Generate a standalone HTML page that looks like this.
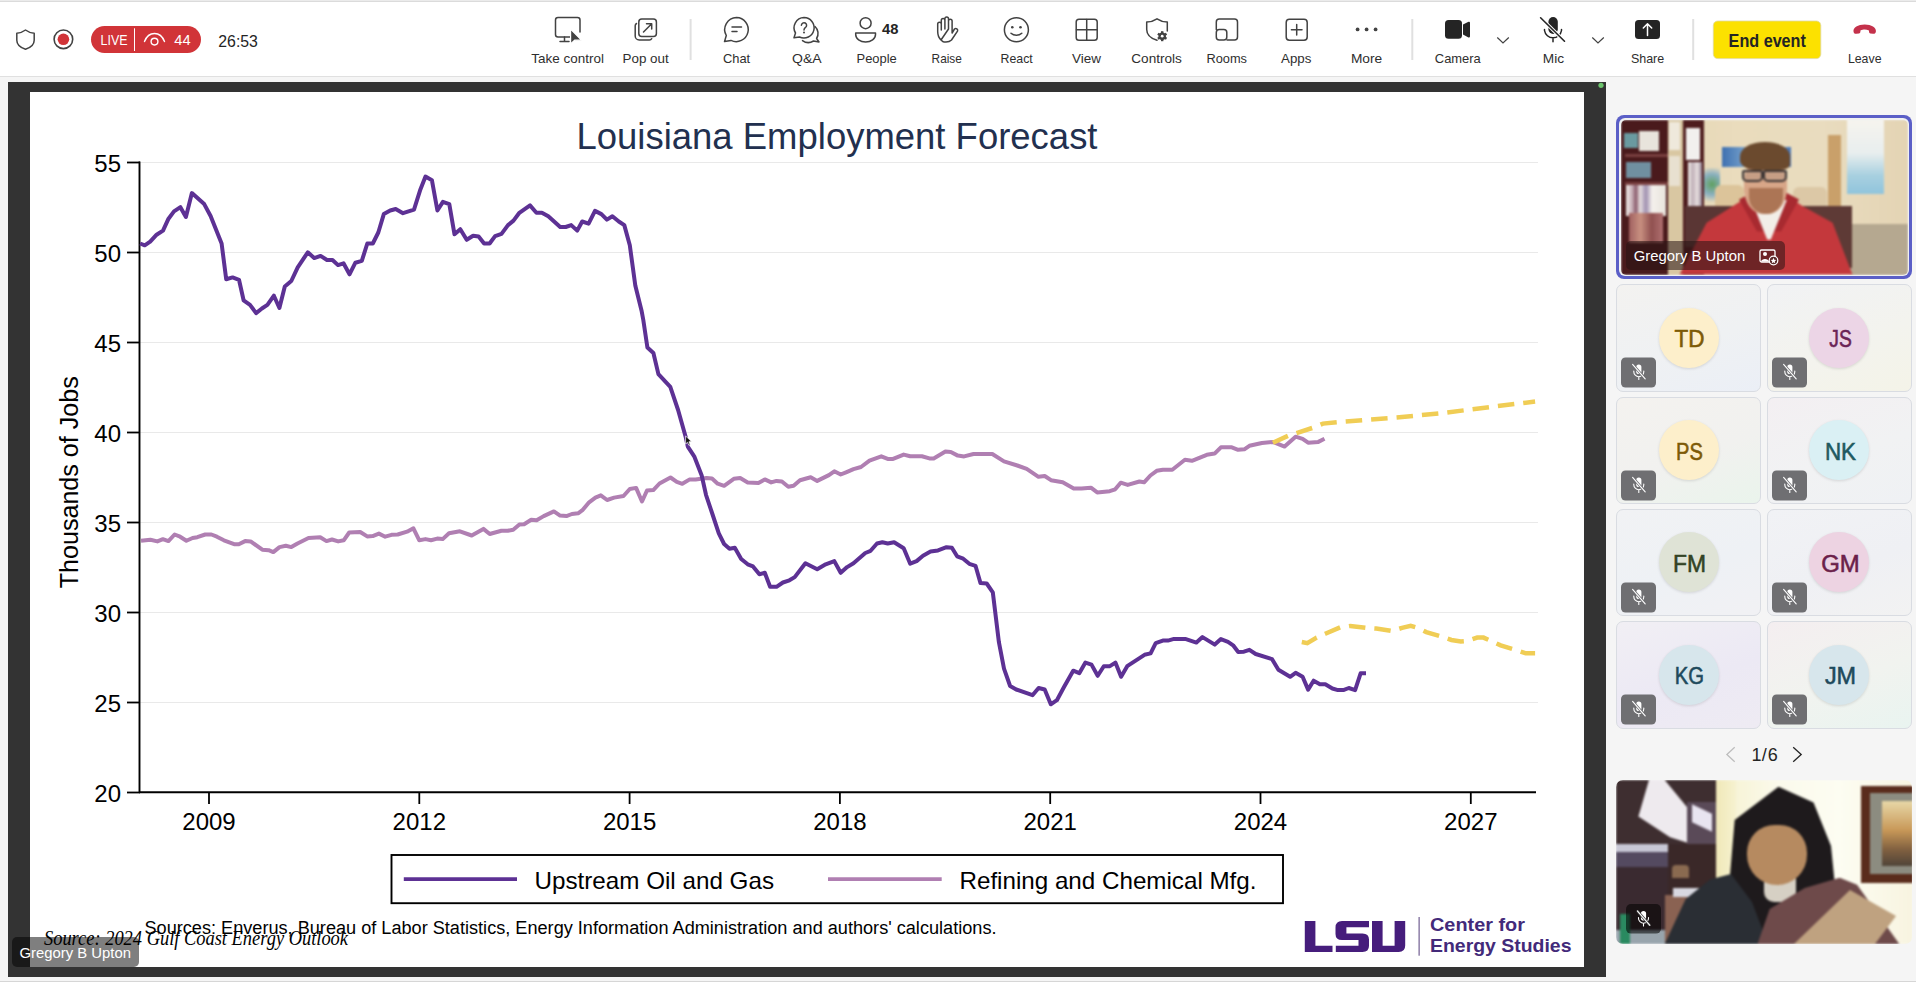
<!DOCTYPE html><html><head><meta charset='utf-8'><style>
*{margin:0;padding:0;box-sizing:border-box}
html,body{width:1916px;height:982px;overflow:hidden;background:#f5f5f5;font-family:"Liberation Sans", sans-serif}
.abs{position:absolute}
#top{position:absolute;left:0;top:0;width:1916px;height:77px;background:#fff;border-top:1px solid #ebebeb;border-bottom:1px solid #e0e0e0;box-shadow:inset 0 1px 0 #dbdbdb}
.lbl{position:absolute;top:49px;font-size:13px;color:#242424;white-space:nowrap;transform:translateX(-50%)}
.sep{position:absolute;top:19px;width:2px;height:41px;background:#e0e0e0}
#frame{position:absolute;left:8px;top:82px;width:1598px;height:895px;background:#333}
#slide{position:absolute;left:30px;top:92px;width:1554px;height:875px;background:#fff}
.tile{position:absolute;width:145px;height:107px;border-radius:6px;border:1px solid #dcdcdc;background:linear-gradient(135deg,#f3f1ee,#eceef3)}
.av{position:absolute;left:42px;top:22px;width:61px;height:61px;border-radius:50%;font-size:23px;text-align:center;line-height:61px;letter-spacing:0.5px}
.mute{position:absolute;left:4px;top:72px;width:35px;height:30px;border-radius:4px;background:#6e6e6e}
</style></head><body>
<div id='top'></div>
<svg class='abs' style='left:0;top:0' width='1916' height='77' viewBox='0 0 1916 77' font-family='Liberation Sans, sans-serif'><path d='M25.5 30 C22.5 32.2 19.5 33.2 16.8 33.2 V40.2 C16.8 44.2 19.5 47.3 25.5 49.2 C31.5 47.3 34.2 44.2 34.2 40.2 V33.2 C31.5 33.2 28.5 32.2 25.5 30 Z' stroke='#424242' stroke-width='1.5' fill='none' stroke-linecap='round' stroke-linejoin='round'/><circle cx='63.4' cy='39.3' r='9.3' fill='none' stroke='#424242' stroke-width='1.6'/><circle cx='63.4' cy='39.3' r='5.8' fill='#d13438'/><rect x='91' y='26' width='110' height='27' rx='13.5' fill='#d13438'/><text x='100.5' y='45.2' font-size='15' fill='#fff' textLength='27' lengthAdjust='spacingAndGlyphs'>LIVE</text><line x1='134.5' y1='28.3' x2='134.5' y2='51' stroke='#fff' stroke-width='1'/><path d='M144.5 41.5 C147 35 151 33.5 154.5 33.5 C158 33.5 162 35 164.5 41.5' fill='none' stroke='#fff' stroke-width='1.4' stroke-linecap='round'/><circle cx='154.5' cy='41.6' r='3.4' fill='none' stroke='#fff' stroke-width='1.4'/><text x='174.3' y='45.2' font-size='15' fill='#fff' textLength='16.4' lengthAdjust='spacingAndGlyphs'>44</text><text x='218.3' y='46.5' font-size='17' fill='#242424' textLength='39.6' lengthAdjust='spacingAndGlyphs'>26:53</text><text x='531.3' y='62.7' font-size='13.6' fill='#2e2e2e' textLength='72.6' lengthAdjust='spacingAndGlyphs'>Take control</text><text x='622.5' y='62.7' font-size='13.6' fill='#2e2e2e' textLength='46.3' lengthAdjust='spacingAndGlyphs'>Pop out</text><text x='723.0' y='62.7' font-size='13.6' fill='#2e2e2e' textLength='27.2' lengthAdjust='spacingAndGlyphs'>Chat</text><text x='792.0' y='62.7' font-size='13.6' fill='#2e2e2e' textLength='29.6' lengthAdjust='spacingAndGlyphs'>Q&amp;A</text><text x='856.5' y='62.7' font-size='13.6' fill='#2e2e2e' textLength='40.3' lengthAdjust='spacingAndGlyphs'>People</text><text x='931.6' y='62.7' font-size='13.6' fill='#2e2e2e' textLength='30.3' lengthAdjust='spacingAndGlyphs'>Raise</text><text x='1000.6' y='62.7' font-size='13.6' fill='#2e2e2e' textLength='32.2' lengthAdjust='spacingAndGlyphs'>React</text><text x='1072.0' y='62.7' font-size='13.6' fill='#2e2e2e' textLength='28.9' lengthAdjust='spacingAndGlyphs'>View</text><text x='1131.3' y='62.7' font-size='13.6' fill='#2e2e2e' textLength='50.6' lengthAdjust='spacingAndGlyphs'>Controls</text><text x='1206.5' y='62.7' font-size='13.6' fill='#2e2e2e' textLength='40.5' lengthAdjust='spacingAndGlyphs'>Rooms</text><text x='1281.1' y='62.7' font-size='13.6' fill='#2e2e2e' textLength='30.3' lengthAdjust='spacingAndGlyphs'>Apps</text><text x='1350.9' y='62.7' font-size='13.6' fill='#2e2e2e' textLength='31.3' lengthAdjust='spacingAndGlyphs'>More</text><text x='1434.8' y='62.7' font-size='13.6' fill='#2e2e2e' textLength='46' lengthAdjust='spacingAndGlyphs'>Camera</text><text x='1542.8' y='62.7' font-size='13.6' fill='#2e2e2e' textLength='21.3' lengthAdjust='spacingAndGlyphs'>Mic</text><text x='1630.9' y='62.7' font-size='13.6' fill='#2e2e2e' textLength='33.3' lengthAdjust='spacingAndGlyphs'>Share</text><text x='1847.9' y='62.7' font-size='13.6' fill='#2e2e2e' textLength='33.6' lengthAdjust='spacingAndGlyphs'>Leave</text><rect x='689.6' y='19' width='2' height='41' fill='#e0e0e0'/><rect x='1411.3' y='19' width='2' height='41' fill='#e0e0e0'/><rect x='1692.2' y='19' width='2' height='41' fill='#e0e0e0'/><path d='M571 37 H558 A2.5 2.5 0 0 1 555.5 34.5 V20 A2.5 2.5 0 0 1 558 17.5 H577.5 A2.5 2.5 0 0 1 580 20 V32' stroke='#424242' stroke-width='1.5' fill='none' stroke-linecap='round' stroke-linejoin='round'/><path d='M564.5 37 V41.2 M560 41.5 H569' stroke='#424242' stroke-width='1.5' fill='none' stroke-linecap='round' stroke-linejoin='round'/><path d='M570.6 29.2 L570.6 44 L574.6 40.2 L581.5 40.2 Z' fill='#424242' stroke='#fff' stroke-width='1.2' stroke-linejoin='round'/><path d='M636.5 23.5 A2.6 2.6 0 0 0 635.2 25.7 V36 A4 4 0 0 0 639.2 40 H649.5 A2.6 2.6 0 0 0 651.7 38.7' stroke='#424242' stroke-width='1.5' fill='none' stroke-linecap='round' stroke-linejoin='round'/><rect x='638.8' y='18.9' width='17.6' height='17.6' rx='3' stroke='#424242' stroke-width='1.5' fill='none' stroke-linecap='round' stroke-linejoin='round'/><path d='M643.5 32 L651.5 24 M646.5 23.8 H651.7 V29' stroke='#424242' stroke-width='1.5' fill='none' stroke-linecap='round' stroke-linejoin='round'/><path d='M736.5 17.6 A12 12 0 1 1 731 40.4 L724.5 41.6 L726.3 35.5 A12 12 0 0 1 736.5 17.6 Z' stroke='#424242' stroke-width='1.5' fill='none' stroke-linecap='round' stroke-linejoin='round'/><path d='M732 27 H741.5 M732 31.6 H737' stroke='#424242' stroke-width='1.5' fill='none' stroke-linecap='round' stroke-linejoin='round'/><path d='M804 17.6 A10.2 10.2 0 1 1 799.5 37 L794 37.8 L795.5 33 A10.2 10.2 0 0 1 804 17.6 Z' stroke='#424242' stroke-width='1.5' fill='none' stroke-linecap='round' stroke-linejoin='round'/><path d='M815 26.5 A9.5 9.5 0 0 1 816.6 38.5 L819 42 L813.5 41 A10 10 0 0 1 802.5 40.6' stroke='#424242' stroke-width='1.5' fill='none' stroke-linecap='round' stroke-linejoin='round'/><path d='M801.4 25.2 A2.6 2.6 0 1 1 805.5 27.4 C804.3 28.2 804 28.8 804 30' stroke='#424242' stroke-width='1.5' fill='none' stroke-linecap='round' stroke-linejoin='round'/><circle cx='804' cy='32.6' r='1' fill='#424242'/><circle cx='865.6' cy='23.2' r='5.5' stroke='#424242' stroke-width='1.5' fill='none' stroke-linecap='round' stroke-linejoin='round'/><path d='M855.7 33 H875.5 V34.5 C875.5 38.8 871 41.9 865.6 41.9 C860.2 41.9 855.7 38.8 855.7 34.5 Z' stroke='#424242' stroke-width='1.5' fill='none' stroke-linecap='round' stroke-linejoin='round'/><text x='882' y='34.4' font-size='14' font-weight='bold' fill='#242424' textLength='16.4' lengthAdjust='spacingAndGlyphs'>48</text><path d='M941 40 C938.5 37.5 937.7 35 937.7 31.5 V24 A1.8 1.8 0 0 1 941.3 24 V30 M941.3 30 V20.2 A1.8 1.8 0 0 1 944.9 20.2 V29 M944.9 29 V18.8 A1.8 1.8 0 0 1 948.5 18.8 V29 M948.5 29 V21 A1.8 1.8 0 0 1 952.1 21 V33 L954.5 29 A1.9 1.9 0 0 1 957.5 31.2 L951.5 40 C950 41.5 948 42 946 42 H944 C943 42 942 41 941 40 Z' stroke='#424242' stroke-width='1.5' fill='none' stroke-linecap='round' stroke-linejoin='round'/><circle cx='1016.4' cy='29.7' r='12' stroke='#424242' stroke-width='1.5' fill='none' stroke-linecap='round' stroke-linejoin='round'/><circle cx='1012.3' cy='27.2' r='1.3' fill='#424242'/><circle cx='1020.5' cy='27.2' r='1.3' fill='#424242'/><path d='M1011 33.3 C1014 36 1018.8 36 1021.8 33.3' stroke='#424242' stroke-width='1.5' fill='none' stroke-linecap='round' stroke-linejoin='round'/><rect x='1076.2' y='19.2' width='21' height='21' rx='2.8' stroke='#424242' stroke-width='1.5' fill='none' stroke-linecap='round' stroke-linejoin='round'/><path d='M1086.7 19.5 V40 M1076.5 29.7 H1097' stroke='#424242' stroke-width='1.5' fill='none' stroke-linecap='round' stroke-linejoin='round'/><path d='M1157 40.3 C1150.5 38.3 1146.7 34.5 1146.7 29.5 V22 C1150.5 22 1154 20.8 1157 18.8 C1160 20.8 1163.5 22 1167.3 22 V31' stroke='#424242' stroke-width='1.5' fill='none' stroke-linecap='round' stroke-linejoin='round'/><g transform='translate(1162.2,36.2)'><circle r='3.7' fill='#424242'/><rect x='-1.2' y='-5' width='2.4' height='3' fill='#424242' transform='rotate(0)'/><rect x='-1.2' y='-5' width='2.4' height='3' fill='#424242' transform='rotate(60)'/><rect x='-1.2' y='-5' width='2.4' height='3' fill='#424242' transform='rotate(120)'/><rect x='-1.2' y='-5' width='2.4' height='3' fill='#424242' transform='rotate(180)'/><rect x='-1.2' y='-5' width='2.4' height='3' fill='#424242' transform='rotate(240)'/><rect x='-1.2' y='-5' width='2.4' height='3' fill='#424242' transform='rotate(300)'/><circle r='1.4' fill='#fff'/></g><path d='M1216.3 29.5 V22 A3 3 0 0 1 1219.3 19 H1234.5 A3 3 0 0 1 1237.5 22 V37 A3 3 0 0 1 1234.5 40 H1227' stroke='#424242' stroke-width='1.5' fill='none' stroke-linecap='round' stroke-linejoin='round'/><rect x='1216.3' y='29.5' width='10.5' height='10.5' rx='3' stroke='#424242' stroke-width='1.5' fill='none' stroke-linecap='round' stroke-linejoin='round'/><rect x='1286.2' y='19.2' width='21' height='21' rx='3.2' stroke='#424242' stroke-width='1.5' fill='none' stroke-linecap='round' stroke-linejoin='round'/><path d='M1296.7 24.5 V35 M1291.4 29.7 H1302' stroke='#424242' stroke-width='1.5' fill='none' stroke-linecap='round' stroke-linejoin='round'/><circle cx='1357.6' cy='29.4' r='1.9' fill='#424242'/><circle cx='1366.6' cy='29.4' r='1.9' fill='#424242'/><circle cx='1375.6' cy='29.4' r='1.9' fill='#424242'/><rect x='1445' y='20' width='17' height='18.8' rx='3.5' fill='#242424'/><path d='M1463 24.5 L1468 22 A1.2 1.2 0 0 1 1470 23 V36.3 A1.2 1.2 0 0 1 1468 37.2 L1463 34.5 Z' fill='#242424'/><path d='M1497.3 37.5 L1503 43 L1508.8 37.5' stroke='#424242' stroke-width='1.2' fill='none'/><rect x='1548.4' y='17' width='9.4' height='17' rx='4.7' fill='#242424'/><path d='M1544.5 29.5 V30.5 A8.6 8.6 0 0 0 1561.5 30.5 V29.5 M1553 39 V41.8' stroke='#242424' stroke-width='1.5' fill='none' stroke-linecap='round'/><path d='M1540.6 17.8 L1564.5 41.2' stroke='#fff' stroke-width='3.5'/><path d='M1540.6 17.8 L1564.5 41.2' stroke='#242424' stroke-width='1.6' stroke-linecap='round'/><path d='M1592.3 37.5 L1598 43 L1603.8 37.5' stroke='#424242' stroke-width='1.2' fill='none'/><rect x='1635' y='20.1' width='25' height='18.8' rx='3.5' fill='#242424'/><path d='M1647.5 35.6 V23.8 M1643.3 28 L1647.5 23.8 L1651.7 28' stroke='#fff' stroke-width='1.5' fill='none' stroke-linecap='round' stroke-linejoin='round'/><rect x='1713.3' y='21' width='107.5' height='37.6' rx='4.5' fill='#fce100' stroke='#e0d9a0' stroke-width='0.8'/><text x='1728.6' y='47' font-size='17.5' font-weight='bold' fill='#242424' textLength='77.3' lengthAdjust='spacingAndGlyphs'>End event</text><path d='M1853.5 31.5 C1853 27.5 1858 24.5 1864.7 24.5 C1871.4 24.5 1876.4 27.5 1875.9 31.5 C1875.7 33.5 1874.5 34 1873 33.8 L1870.5 33.4 C1869.4 33.2 1869 32.5 1869 31.5 V30.5 C1867.5 29.8 1866 29.6 1864.7 29.6 C1863.4 29.6 1861.9 29.8 1860.4 30.5 V31.5 C1860.4 32.5 1860 33.2 1858.9 33.4 L1856.4 33.8 C1854.9 34 1853.7 33.5 1853.5 31.5 Z' fill='#c4314b'/></svg>
<div id='frame'></div><div id='slide'></div>
<svg class='abs' style='left:0;top:0' width='1916' height='982' viewBox='0 0 1916 982' font-family='Liberation Sans, sans-serif'>
<line x1='140' y1='162.5' x2='1538' y2='162.5' stroke='#e9e9e9' stroke-width='1.1'/><line x1='140' y1='252.5' x2='1538' y2='252.5' stroke='#e9e9e9' stroke-width='1.1'/><line x1='140' y1='342.5' x2='1538' y2='342.5' stroke='#e9e9e9' stroke-width='1.1'/><line x1='140' y1='432.5' x2='1538' y2='432.5' stroke='#e9e9e9' stroke-width='1.1'/><line x1='140' y1='522.5' x2='1538' y2='522.5' stroke='#e9e9e9' stroke-width='1.1'/><line x1='140' y1='612.5' x2='1538' y2='612.5' stroke='#e9e9e9' stroke-width='1.1'/><line x1='140' y1='702.5' x2='1538' y2='702.5' stroke='#e9e9e9' stroke-width='1.1'/>
<line x1='139.5' y1='161.6' x2='139.5' y2='793' stroke='#000' stroke-width='1.9'/>
<line x1='139' y1='792.2' x2='1536' y2='792.2' stroke='#000' stroke-width='1.9'/>
<line x1='127' y1='792.5' x2='140' y2='792.5' stroke='#000' stroke-width='1.8'/><text x='121' y='801.8' text-anchor='end' font-size='24'>20</text><line x1='127' y1='702.5' x2='140' y2='702.5' stroke='#000' stroke-width='1.8'/><text x='121' y='711.8' text-anchor='end' font-size='24'>25</text><line x1='127' y1='612.5' x2='140' y2='612.5' stroke='#000' stroke-width='1.8'/><text x='121' y='621.8' text-anchor='end' font-size='24'>30</text><line x1='127' y1='522.5' x2='140' y2='522.5' stroke='#000' stroke-width='1.8'/><text x='121' y='531.8' text-anchor='end' font-size='24'>35</text><line x1='127' y1='432.5' x2='140' y2='432.5' stroke='#000' stroke-width='1.8'/><text x='121' y='441.8' text-anchor='end' font-size='24'>40</text><line x1='127' y1='342.5' x2='140' y2='342.5' stroke='#000' stroke-width='1.8'/><text x='121' y='351.8' text-anchor='end' font-size='24'>45</text><line x1='127' y1='252.5' x2='140' y2='252.5' stroke='#000' stroke-width='1.8'/><text x='121' y='261.8' text-anchor='end' font-size='24'>50</text><line x1='127' y1='162.5' x2='140' y2='162.5' stroke='#000' stroke-width='1.8'/><text x='121' y='171.8' text-anchor='end' font-size='24'>55</text><line x1='209.0' y1='792' x2='209.0' y2='804' stroke='#000' stroke-width='1.8'/><text x='209.0' y='830' text-anchor='middle' font-size='24'>2009</text><line x1='419.3' y1='792' x2='419.3' y2='804' stroke='#000' stroke-width='1.8'/><text x='419.3' y='830' text-anchor='middle' font-size='24'>2012</text><line x1='629.6' y1='792' x2='629.6' y2='804' stroke='#000' stroke-width='1.8'/><text x='629.6' y='830' text-anchor='middle' font-size='24'>2015</text><line x1='839.9' y1='792' x2='839.9' y2='804' stroke='#000' stroke-width='1.8'/><text x='839.9' y='830' text-anchor='middle' font-size='24'>2018</text><line x1='1050.2' y1='792' x2='1050.2' y2='804' stroke='#000' stroke-width='1.8'/><text x='1050.2' y='830' text-anchor='middle' font-size='24'>2021</text><line x1='1260.5' y1='792' x2='1260.5' y2='804' stroke='#000' stroke-width='1.8'/><text x='1260.5' y='830' text-anchor='middle' font-size='24'>2024</text><line x1='1470.8' y1='792' x2='1470.8' y2='804' stroke='#000' stroke-width='1.8'/><text x='1470.8' y='830' text-anchor='middle' font-size='24'>2027</text>
<text x='576.5' y='149' font-size='36' fill='#22304f' textLength='521' lengthAdjust='spacingAndGlyphs'>Louisiana Employment Forecast</text>
<text transform='translate(77.5,482.3) rotate(-90)' text-anchor='middle' font-size='25' textLength='212' lengthAdjust='spacingAndGlyphs'>Thousands of Jobs</text>
<path d='M141.0 540.8 L150.4 539.8 L157.4 541.4 L162.9 539.2 L168.4 541.1 L174.6 534.5 L180.1 536.7 L186.4 540.8 L192.6 538.0 L197.3 537.2 L205.2 534.5 L211.4 534.5 L216.9 536.7 L223.9 540.3 L234.1 544.2 L238.8 544.2 L245.1 541.1 L250.6 541.4 L262.3 549.7 L268.6 550.2 L273.3 552.1 L279.5 547.1 L285.8 545.8 L291.3 547.1 L297.5 543.5 L308.5 538.0 L320.2 537.2 L326.5 541.1 L332.0 539.5 L338.2 541.4 L343.7 540.3 L349.2 532.5 L360.2 532.0 L367.2 536.4 L372.7 536.1 L378.9 533.6 L385.2 536.7 L391.5 534.8 L397.7 534.5 L407.1 531.7 L413.4 528.3 L419.3 540.3 L425.5 539.1 L431.0 540.2 L437.2 538.6 L442.7 539.1 L449.0 533.3 L459.9 531.3 L471.7 535.5 L483.4 528.9 L489.7 534.0 L501.4 530.8 L507.7 530.8 L513.2 529.7 L519.4 524.5 L524.1 524.2 L531.2 519.8 L536.6 520.3 L543.7 516.1 L553.9 511.4 L560.1 515.6 L566.4 516.1 L571.9 514.0 L578.1 513.3 L582.8 509.8 L589.1 502.3 L595.4 497.6 L600.8 495.3 L607.1 500.0 L614.1 497.6 L623.5 496.0 L629.8 489.0 L636.1 487.9 L642.0 501.5 L647.0 490.5 L653.3 490.1 L659.5 483.5 L670.5 477.5 L676.8 481.9 L682.3 483.8 L689.3 479.6 L695.6 479.6 L706.5 478.0 L712.0 478.5 L717.7 483.7 L724.1 485.8 L733.8 478.8 L740.2 478.1 L747.7 482.4 L758.4 483.0 L764.8 479.4 L771.2 482.4 L776.5 480.9 L781.9 481.5 L788.3 486.7 L793.6 485.8 L800.0 480.2 L810.7 477.3 L817.2 480.9 L828.9 475.1 L834.3 471.3 L840.7 474.5 L846.0 472.3 L853.5 469.1 L861.0 467.0 L869.5 460.6 L881.3 456.3 L887.7 458.9 L893.1 458.9 L903.7 454.6 L910.2 456.3 L921.9 456.3 L929.4 458.4 L933.7 458.4 L945.4 451.6 L950.8 452.0 L957.8 455.6 L964.1 456.4 L973.5 454.0 L992.3 454.0 L1004.0 461.4 L1017.3 465.5 L1026.7 468.9 L1038.5 476.8 L1044.7 476.0 L1051.0 480.2 L1062.7 482.3 L1073.7 488.5 L1081.5 488.5 L1090.9 487.7 L1097.2 492.4 L1109.7 491.2 L1115.2 489.3 L1120.7 482.7 L1127.7 484.9 L1139.4 481.5 L1144.1 482.3 L1150.4 475.5 L1156.7 470.8 L1162.9 469.7 L1172.3 469.7 L1184.9 459.8 L1191.9 460.8 L1206.8 454.8 L1214.6 453.6 L1220.9 447.3 L1231.8 447.3 L1238.1 449.8 L1244.3 449.3 L1249.4 445.8 L1261.9 443.0 L1272.9 441.9 L1284.6 446.6 L1295.6 436.7 L1302.6 438.8 L1308.1 442.7 L1318.3 441.9 L1324.5 438.8' fill='none' stroke='#b07fb2' stroke-width='4' stroke-linejoin='round'/>
<path d='M140.1 243.5 L144.7 245.3 L150.2 241.6 L156.6 234.7 L163.0 230.6 L168.5 218.7 L174.0 211.4 L180.4 207.2 L185.9 216.9 L191.9 193.1 L204.2 204.1 L210.6 216.0 L221.6 243.5 L226.2 279.2 L232.6 277.4 L239.0 279.8 L243.6 300.3 L250.0 304.9 L256.1 313.1 L261.9 308.5 L267.4 304.9 L273.9 295.7 L279.4 308.0 L284.8 286.5 L291.3 281.0 L297.7 267.3 L307.8 252.3 L314.2 258.1 L320.6 255.9 L327.0 260.0 L332.5 260.0 L338.0 265.1 L343.5 263.3 L349.5 274.3 L355.4 262.7 L361.8 260.9 L367.3 243.5 L372.8 243.5 L378.3 232.5 L383.8 214.1 L390.2 210.5 L395.7 209.0 L403.0 213.2 L414.0 209.6 L420.4 189.4 L425.5 176.6 L431.9 180.2 L437.4 210.5 L442.9 201.9 L449.3 204.1 L454.5 234.3 L460.3 229.2 L466.7 239.8 L473.1 235.8 L478.6 236.5 L484.1 243.5 L489.6 243.5 L495.1 236.1 L501.5 233.9 L508.0 225.1 L513.5 220.6 L519.0 213.2 L530.0 205.4 L536.4 212.7 L541.9 212.7 L548.3 216.3 L560.2 227.0 L565.7 227.0 L571.2 225.1 L577.2 230.6 L582.2 221.5 L588.6 223.7 L595.0 210.9 L601.4 214.1 L606.9 219.6 L612.4 216.3 L618.8 221.5 L624.3 225.1 L629.8 245.3 L635.3 285.6 L641.7 311.3 L643.3 320.0 L647.4 347.5 L653.4 353.0 L658.4 374.1 L670.3 386.9 L678.1 410.0 L685.7 437.0 L687.8 446.7 L694.2 456.3 L701.7 475.5 L706.0 494.8 L712.4 514.0 L718.8 533.3 L724.1 544.0 L729.5 548.7 L734.8 547.8 L741.2 559.0 L747.7 564.3 L753.0 566.4 L759.4 574.3 L764.8 572.8 L770.1 586.8 L776.5 586.8 L782.9 582.5 L789.4 580.3 L794.7 577.1 L805.4 563.2 L817.2 569.2 L825.7 564.3 L834.3 561.1 L840.7 572.8 L847.1 567.1 L853.5 563.2 L865.3 553.0 L870.6 550.8 L877.0 543.5 L882.4 542.3 L887.7 543.5 L894.1 542.3 L903.7 548.3 L910.2 563.7 L916.6 561.1 L923.0 555.7 L930.5 551.5 L938.0 550.4 L946.5 547.2 L951.9 547.8 L957.1 556.3 L963.2 558.7 L969.3 563.8 L975.5 565.8 L980.5 583.1 L986.7 583.5 L992.8 592.3 L998.9 642.2 L1004.0 668.7 L1010.1 686.0 L1016.2 689.5 L1032.5 695.2 L1038.6 688.0 L1044.7 689.5 L1050.8 704.3 L1056.9 700.2 L1064.0 687.0 L1073.2 670.7 L1079.3 673.2 L1085.4 662.6 L1091.5 664.6 L1097.7 675.8 L1103.8 666.2 L1109.9 666.2 L1115.4 662.6 L1121.1 676.8 L1127.2 666.2 L1144.5 654.8 L1150.6 653.4 L1155.7 643.2 L1162.8 640.6 L1167.9 640.6 L1174.0 638.9 L1185.2 638.9 L1196.4 642.6 L1202.5 637.1 L1214.8 644.6 L1220.9 639.1 L1228.0 641.8 L1233.1 645.3 L1238.2 652.0 L1243.9 651.7 L1249.4 649.8 L1255.7 654.0 L1272.1 659.2 L1278.4 669.7 L1290.1 676.8 L1295.6 672.8 L1302.6 676.8 L1308.1 689.6 L1313.6 680.7 L1319.9 684.3 L1325.3 684.3 L1332.4 688.5 L1337.9 690.1 L1343.3 690.1 L1348.8 688.0 L1355.1 690.1 L1360.6 673.3 L1366.0 673.3' fill='none' stroke='#5d3194' stroke-width='4' stroke-linejoin='round'/>
<path d='M1272.9 442.7 L1288.5 435.6 L1312.8 427.8 L1323.0 423.6 L1338.6 422.0 L1396.6 417.6 L1443.5 412.9 L1493.6 406.6 L1535.1 401.6' fill='none' stroke='#f0cd55' stroke-width='4.5' stroke-dasharray='16.5 9'/>
<path d='M1301.8 642.0 L1307.3 643.1 L1316.7 637.6 L1325.3 633.7 L1340.2 627.4 L1350.4 625.9 L1366.8 627.9 L1376.2 628.5 L1391.9 631.0 L1402.0 627.9 L1410.7 625.9 L1417.7 627.9 L1426.3 632.1 L1442.0 636.8 L1451.4 640.0 L1460.8 641.5 L1467.0 641.0 L1477.2 637.6 L1483.5 637.6 L1492.1 641.5 L1500.7 645.4 L1517.1 650.4 L1525.7 653.3 L1535.1 653.3' fill='none' stroke='#f0cd55' stroke-width='4.5' stroke-dasharray='16.5 9'/>
<rect x='391.5' y='855' width='891.5' height='48.2' fill='none' stroke='#000' stroke-width='1.9'/>
<line x1='403.8' y1='879.1' x2='517' y2='879.1' stroke='#5d3194' stroke-width='3.8'/>
<line x1='828' y1='879.1' x2='941.7' y2='879.1' stroke='#b07fb2' stroke-width='3.8'/>
<text x='534.5' y='888.8' font-size='24' textLength='239.5' lengthAdjust='spacingAndGlyphs'>Upstream Oil and Gas</text>
<text x='959.5' y='888.8' font-size='24' textLength='297' lengthAdjust='spacingAndGlyphs'>Refining and Chemical Mfg.</text>
<text x='144.5' y='934.3' font-size='18' textLength='852' lengthAdjust='spacingAndGlyphs'>Sources: Enverus, Bureau of Labor Statistics, Energy Information Administration and authors' calculations.</text>
<text x='44' y='945' font-size='20' font-style='italic' font-family='Liberation Serif, serif' textLength='304' lengthAdjust='spacingAndGlyphs'>Source: 2024 Gulf Coast Energy Outlook</text>
<g fill='#461d7c'>
<path d='M1304.8 921 H1315.4 V945.8 H1332.5 V952 H1304.8 Z'/>
<path d='M1369 921 V927.2 H1346.4 V933.4 H1362.5 Q1369 933.4 1369 939.5 V945.8 Q1369 952 1362.5 952 H1335.8 V945.8 H1358.5 V940 H1342 Q1335.5 940 1335.5 934 V927.5 Q1335.5 921 1342 921 Z'/>
<path d='M1372 921 H1382.6 V945.8 H1394.6 V921 H1405.2 V945.5 Q1405.2 952 1398.7 952 H1372 Z'/>
</g>
<rect x='1418.4' y='917' width='1.5' height='38.7' fill='#8e7fa8'/>
<text x='1430' y='930.9' font-size='19' font-weight='bold' fill='#432a7a' textLength='95' lengthAdjust='spacingAndGlyphs'>Center for</text>
<text x='1430' y='951.8' font-size='19' font-weight='bold' fill='#432a7a' textLength='141.5' lengthAdjust='spacingAndGlyphs'>Energy Studies</text>
<path d='M685.6 436 V444 L687.5 442.3 L688.8 445.2 L690.2 444.6 L688.9 441.8 L691.5 441.6 Z' fill='#111' stroke='#fff' stroke-width='0.7' stroke-linejoin='round'/>
<circle cx='1601' cy='85.3' r='2.6' fill='#6cc46c'/>
<rect x='0' y='981' width='1916' height='1' fill='#d6d6d6'/>
</svg>
<div class='abs' style='left:12px;top:937px;width:127px;height:29.5px;border-radius:5px;background:rgba(0,0,0,0.5)'></div><svg class='abs' style='left:0;top:920px' width='160' height='60'><text x='19.5' y='37.6' font-family='Liberation Sans, sans-serif' font-size='15' fill='#fff' textLength='111.5' lengthAdjust='spacingAndGlyphs'>Gregory B Upton</text></svg>
<div class='abs' style='left:1616.3px;top:284.3px;width:145.2px;height:107.4px;border-radius:7px;border:1px solid #d9dce2;background:linear-gradient(160deg,#f3f2f0 0%,#eff1f3 55%,#ebeff6 100%)'><div class='abs' style='left:41.5px;top:22.5px;width:60px;height:60px;border-radius:50%;background:#fdefcb;box-shadow:0 1px 3px rgba(0,0,0,0.12)'></div><svg class='abs' style='left:0;top:0' width='145' height='107'><text x='72.5' y='62' text-anchor='middle' font-family='Liberation Sans, sans-serif' font-size='23' fill='#7d5a06' stroke='#7d5a06' stroke-width='0.55' textLength='30' lengthAdjust='spacingAndGlyphs'>TD</text><rect x='4' y='72.5' width='35' height='30' rx='4.5' fill='#6f6f72'/><g transform='translate(21.8,87.5) scale(1.0)'><rect x='-2.6' y='-8' width='5.2' height='9.5' rx='2.6' fill='#fff'/><path d='M-5 -1.5 V-0.8 A5 5 0 0 0 5 -0.8 V-1.5 M0 4.3 V7' stroke='#fff' stroke-width='1.1' fill='none' stroke-linecap='round'/><path d='M-6.2 -8.2 L6.4 6.4' stroke='#707074' stroke-width='2.6'/><path d='M-6.2 -8.2 L6.4 6.4' stroke='#fff' stroke-width='1.1' stroke-linecap='round'/></g></svg></div><div class='abs' style='left:1766.6px;top:284.3px;width:145.2px;height:107.4px;border-radius:7px;border:1px solid #d9dce2;background:linear-gradient(160deg,#f1f2f4 0%,#f3f3ee 55%,#f4f3e8 100%)'><div class='abs' style='left:41.5px;top:22.5px;width:60px;height:60px;border-radius:50%;background:#ecd5e6;box-shadow:0 1px 3px rgba(0,0,0,0.12)'></div><svg class='abs' style='left:0;top:0' width='145' height='107'><text x='72.5' y='62' text-anchor='middle' font-family='Liberation Sans, sans-serif' font-size='23' fill='#6b2456' stroke='#6b2456' stroke-width='0.55' textLength='22.5' lengthAdjust='spacingAndGlyphs'>JS</text><rect x='4' y='72.5' width='35' height='30' rx='4.5' fill='#6f6f72'/><g transform='translate(21.8,87.5) scale(1.0)'><rect x='-2.6' y='-8' width='5.2' height='9.5' rx='2.6' fill='#fff'/><path d='M-5 -1.5 V-0.8 A5 5 0 0 0 5 -0.8 V-1.5 M0 4.3 V7' stroke='#fff' stroke-width='1.1' fill='none' stroke-linecap='round'/><path d='M-6.2 -8.2 L6.4 6.4' stroke='#707074' stroke-width='2.6'/><path d='M-6.2 -8.2 L6.4 6.4' stroke='#fff' stroke-width='1.1' stroke-linecap='round'/></g></svg></div><div class='abs' style='left:1616.3px;top:396.6px;width:145.2px;height:107.4px;border-radius:7px;border:1px solid #d9dce2;background:linear-gradient(160deg,#f4f2ef 0%,#f1f1ef 55%,#eaf4ec 100%)'><div class='abs' style='left:41.5px;top:22.5px;width:60px;height:60px;border-radius:50%;background:#fdefcb;box-shadow:0 1px 3px rgba(0,0,0,0.12)'></div><svg class='abs' style='left:0;top:0' width='145' height='107'><text x='72.5' y='62' text-anchor='middle' font-family='Liberation Sans, sans-serif' font-size='23' fill='#7d5a06' stroke='#7d5a06' stroke-width='0.55' textLength='26.8' lengthAdjust='spacingAndGlyphs'>PS</text><rect x='4' y='72.5' width='35' height='30' rx='4.5' fill='#6f6f72'/><g transform='translate(21.8,87.5) scale(1.0)'><rect x='-2.6' y='-8' width='5.2' height='9.5' rx='2.6' fill='#fff'/><path d='M-5 -1.5 V-0.8 A5 5 0 0 0 5 -0.8 V-1.5 M0 4.3 V7' stroke='#fff' stroke-width='1.1' fill='none' stroke-linecap='round'/><path d='M-6.2 -8.2 L6.4 6.4' stroke='#707074' stroke-width='2.6'/><path d='M-6.2 -8.2 L6.4 6.4' stroke='#fff' stroke-width='1.1' stroke-linecap='round'/></g></svg></div><div class='abs' style='left:1766.6px;top:396.6px;width:145.2px;height:107.4px;border-radius:7px;border:1px solid #d9dce2;background:linear-gradient(160deg,#f3eff2 0%,#f1f2f3 55%,#eff1f4 100%)'><div class='abs' style='left:41.5px;top:22.5px;width:60px;height:60px;border-radius:50%;background:#daf0f4;box-shadow:0 1px 3px rgba(0,0,0,0.12)'></div><svg class='abs' style='left:0;top:0' width='145' height='107'><text x='72.5' y='62' text-anchor='middle' font-family='Liberation Sans, sans-serif' font-size='23' fill='#1f5a60' stroke='#1f5a60' stroke-width='0.55' textLength='31.2' lengthAdjust='spacingAndGlyphs'>NK</text><rect x='4' y='72.5' width='35' height='30' rx='4.5' fill='#6f6f72'/><g transform='translate(21.8,87.5) scale(1.0)'><rect x='-2.6' y='-8' width='5.2' height='9.5' rx='2.6' fill='#fff'/><path d='M-5 -1.5 V-0.8 A5 5 0 0 0 5 -0.8 V-1.5 M0 4.3 V7' stroke='#fff' stroke-width='1.1' fill='none' stroke-linecap='round'/><path d='M-6.2 -8.2 L6.4 6.4' stroke='#707074' stroke-width='2.6'/><path d='M-6.2 -8.2 L6.4 6.4' stroke='#fff' stroke-width='1.1' stroke-linecap='round'/></g></svg></div><div class='abs' style='left:1616.3px;top:508.9px;width:145.2px;height:107.4px;border-radius:7px;border:1px solid #d9dce2;background:linear-gradient(160deg,#f1f2f4 0%,#eef1f5 55%,#f1f1f4 100%)'><div class='abs' style='left:41.5px;top:22.5px;width:60px;height:60px;border-radius:50%;background:#dfe3d6;box-shadow:0 1px 3px rgba(0,0,0,0.12)'></div><svg class='abs' style='left:0;top:0' width='145' height='107'><text x='72.5' y='62' text-anchor='middle' font-family='Liberation Sans, sans-serif' font-size='23' fill='#334325' stroke='#334325' stroke-width='0.55' textLength='33' lengthAdjust='spacingAndGlyphs'>FM</text><rect x='4' y='72.5' width='35' height='30' rx='4.5' fill='#6f6f72'/><g transform='translate(21.8,87.5) scale(1.0)'><rect x='-2.6' y='-8' width='5.2' height='9.5' rx='2.6' fill='#fff'/><path d='M-5 -1.5 V-0.8 A5 5 0 0 0 5 -0.8 V-1.5 M0 4.3 V7' stroke='#fff' stroke-width='1.1' fill='none' stroke-linecap='round'/><path d='M-6.2 -8.2 L6.4 6.4' stroke='#707074' stroke-width='2.6'/><path d='M-6.2 -8.2 L6.4 6.4' stroke='#fff' stroke-width='1.1' stroke-linecap='round'/></g></svg></div><div class='abs' style='left:1766.6px;top:508.9px;width:145.2px;height:107.4px;border-radius:7px;border:1px solid #d9dce2;background:linear-gradient(160deg,#f1f2f5 0%,#eff0f4 55%,#f2f2f2 100%)'><div class='abs' style='left:41.5px;top:22.5px;width:60px;height:60px;border-radius:50%;background:#edd3e2;box-shadow:0 1px 3px rgba(0,0,0,0.12)'></div><svg class='abs' style='left:0;top:0' width='145' height='107'><text x='72.5' y='62' text-anchor='middle' font-family='Liberation Sans, sans-serif' font-size='23' fill='#6b1f4a' stroke='#6b1f4a' stroke-width='0.55' textLength='38.5' lengthAdjust='spacingAndGlyphs'>GM</text><rect x='4' y='72.5' width='35' height='30' rx='4.5' fill='#6f6f72'/><g transform='translate(21.8,87.5) scale(1.0)'><rect x='-2.6' y='-8' width='5.2' height='9.5' rx='2.6' fill='#fff'/><path d='M-5 -1.5 V-0.8 A5 5 0 0 0 5 -0.8 V-1.5 M0 4.3 V7' stroke='#fff' stroke-width='1.1' fill='none' stroke-linecap='round'/><path d='M-6.2 -8.2 L6.4 6.4' stroke='#707074' stroke-width='2.6'/><path d='M-6.2 -8.2 L6.4 6.4' stroke='#fff' stroke-width='1.1' stroke-linecap='round'/></g></svg></div><div class='abs' style='left:1616.3px;top:621.2px;width:145.2px;height:107.4px;border-radius:7px;border:1px solid #d9dce2;background:linear-gradient(160deg,#f1eff4 0%,#ece9f4 55%,#eeebf3 100%)'><div class='abs' style='left:41.5px;top:22.5px;width:60px;height:60px;border-radius:50%;background:#d7e6ec;box-shadow:0 1px 3px rgba(0,0,0,0.12)'></div><svg class='abs' style='left:0;top:0' width='145' height='107'><text x='72.5' y='62' text-anchor='middle' font-family='Liberation Sans, sans-serif' font-size='23' fill='#1e4a5c' stroke='#1e4a5c' stroke-width='0.55' textLength='29.3' lengthAdjust='spacingAndGlyphs'>KG</text><rect x='4' y='72.5' width='35' height='30' rx='4.5' fill='#6f6f72'/><g transform='translate(21.8,87.5) scale(1.0)'><rect x='-2.6' y='-8' width='5.2' height='9.5' rx='2.6' fill='#fff'/><path d='M-5 -1.5 V-0.8 A5 5 0 0 0 5 -0.8 V-1.5 M0 4.3 V7' stroke='#fff' stroke-width='1.1' fill='none' stroke-linecap='round'/><path d='M-6.2 -8.2 L6.4 6.4' stroke='#707074' stroke-width='2.6'/><path d='M-6.2 -8.2 L6.4 6.4' stroke='#fff' stroke-width='1.1' stroke-linecap='round'/></g></svg></div><div class='abs' style='left:1766.6px;top:621.2px;width:145.2px;height:107.4px;border-radius:7px;border:1px solid #d9dce2;background:linear-gradient(160deg,#f4eef0 0%,#f1f3ef 55%,#e9f4f0 100%)'><div class='abs' style='left:41.5px;top:22.5px;width:60px;height:60px;border-radius:50%;background:#d7e6ec;box-shadow:0 1px 3px rgba(0,0,0,0.12)'></div><svg class='abs' style='left:0;top:0' width='145' height='107'><text x='72.5' y='62' text-anchor='middle' font-family='Liberation Sans, sans-serif' font-size='23' fill='#1e4a5c' stroke='#1e4a5c' stroke-width='0.55' textLength='31.2' lengthAdjust='spacingAndGlyphs'>JM</text><rect x='4' y='72.5' width='35' height='30' rx='4.5' fill='#6f6f72'/><g transform='translate(21.8,87.5) scale(1.0)'><rect x='-2.6' y='-8' width='5.2' height='9.5' rx='2.6' fill='#fff'/><path d='M-5 -1.5 V-0.8 A5 5 0 0 0 5 -0.8 V-1.5 M0 4.3 V7' stroke='#fff' stroke-width='1.1' fill='none' stroke-linecap='round'/><path d='M-6.2 -8.2 L6.4 6.4' stroke='#707074' stroke-width='2.6'/><path d='M-6.2 -8.2 L6.4 6.4' stroke='#fff' stroke-width='1.1' stroke-linecap='round'/></g></svg></div><svg class='abs' style='left:1700px;top:740px' width='120' height='30'><path d='M34.7 7.3 L26.9 14.4 L34.7 21.7' stroke='#bdbdbd' stroke-width='1.3' fill='none'/><path d='M93.2 7.3 L101.2 14.4 L93.2 21.7' stroke='#242424' stroke-width='1.3' fill='none'/><text y='20.9' font-family='Liberation Sans, sans-serif' font-size='18' fill='#242424'><tspan x='51.5'>1</tspan><tspan x='61.8'>/</tspan><tspan x='67.8'>6</tspan></text></svg><div class='abs' style='left:1616px;top:115px;width:296px;height:164px;border-radius:8px;background:#5b5fc7'></div><div class='abs' style='left:1619px;top:118px;width:290px;height:158px;border-radius:6px;background:#f0f0f0'></div><div class='abs' style='left:1621px;top:119.5px;width:287px;height:155px;border-radius:5px;overflow:hidden'><div class='abs' style='left:0;top:0;width:287px;height:155px;filter:blur(0.9px)'><div class='abs' style='left:0px;top:0px;width:287px;height:155px;background:linear-gradient(90deg,#e2d2b0 0%,#eadcbd 40%,#e9dcbf 70%,#e4d4b4 100%);'></div><div class='abs' style='left:0px;top:0px;width:49px;height:155px;background:#4a1a1c;'></div><div class='abs' style='left:47px;top:0px;width:15px;height:155px;background:#d9c7a2;'></div><div class='abs' style='left:48px;top:2px;width:11px;height:28px;background:#efe9dc;'></div><div class='abs' style='left:48px;top:36px;width:11px;height:30px;background:#e8e0d0;'></div><div class='abs' style='left:62px;top:0px;width:21px;height:155px;background:#4e1c1e;'></div><div class='abs' style='left:3px;top:13px;width:14px;height:15px;background:#6a9aa0;'></div><div class='abs' style='left:18px;top:11px;width:20px;height:20px;background:#e8e4dc;'></div><div class='abs' style='left:4px;top:34px;width:43px;height:3px;background:#7a4040;'></div><div class='abs' style='left:5px;top:42px;width:25px;height:16px;background:#7090a0;'></div><div class='abs' style='left:4px;top:62px;width:43px;height:3px;background:#7a4040;'></div><div class='abs' style='left:5px;top:65px;width:40px;height:31px;background:linear-gradient(90deg,#f0ece8 0%,#c8b0b8 15%,#8a5a6a 25%,#e8e0e0 35%,#a090b0 50%,#f4f0ec 65%,#e8e4dc 100%);'></div><div class='abs' style='left:8px;top:93px;width:34px;height:30px;background:linear-gradient(90deg,#a06060,#c89080,#905050,#b07070);'></div><div class='abs' style='left:65px;top:8px;width:14px;height:32px;background:#f2f0ee;'></div><div class='abs' style='left:67px;top:42px;width:14px;height:50px;background:linear-gradient(90deg,#f0ece8,#c0b0b8,#e8e0e0,#908090);'></div><div class='abs' style='left:83px;top:48px;width:16px;height:41px;background:radial-gradient(circle at 50% 40%,#60a060 0%,#8ab0c0 40%,rgba(220,200,170,0) 70%);'></div><div class='abs' style='left:101px;top:27px;width:69px;height:20px;background:linear-gradient(90deg,#3e70b0,#90b8d8 50%,#4a78b8);'></div><div class='abs' style='left:207px;top:15px;width:13px;height:74px;background:#c9a06a;'></div><div class='abs' style='left:226px;top:0px;width:37px;height:74px;background:linear-gradient(180deg,#f6f4ee 0%,#e8eeee 45%,#a8d0e0 75%,#90c4dc 100%);'></div><div class='abs' style='left:229px;top:104px;width:58px;height:51px;background:#b5a890;'></div><div class='abs' style='left:94px;top:65px;width:29px;height:22px;background:#dcc49a;border-radius:6px 6px 0 0'></div><div class='abs' style='left:172px;top:67px;width:34px;height:20px;background:#dcc8a6;border-radius:6px 6px 0 0'></div><div class='abs' style='left:64px;top:86px;width:59px;height:41px;background:#5a3634;'></div><div class='abs' style='left:165px;top:86px;width:66px;height:62px;background:#5e3a36;'></div><div class='abs' style='left:55px;top:70px;width:180px;height:85px;background:#c4383c;clip-path:polygon(2% 100%,17% 39%,38% 11%,44% 5%,60% 5%,70% 19%,87% 39%,98% 100%)'></div><div class='abs' style='left:118px;top:72px;width:60px;height:40px;background:#a82a30;clip-path:polygon(0 20%,25% 0,75% 0,100% 20%,70% 100%,30% 100%)'></div><div class='abs' style='left:130px;top:80px;width:36px;height:40px;background:#f2eee8;clip-path:polygon(0 0,100% 0,55% 100%,45% 100%)'></div><div class='abs' style='left:127px;top:66px;width:34px;height:20px;background:#c88e6c;border-radius:0 0 12px 12px'></div><div class='abs' style='left:123px;top:36px;width:43px;height:58px;background:#d8a688;border-radius:46% 46% 44% 44%'></div><div class='abs' style='left:128px;top:68px;width:34px;height:26px;background:#a46c4c;border-radius:0 0 17px 17px;opacity:0.85'></div><div class='abs' style='left:119px;top:22px;width:50px;height:28px;background:#6b4a2e;border-radius:50% 50% 20% 35%'></div><div class='abs' style='left:121px;top:50px;width:21px;height:12px;background:rgba(180,150,130,0.5);border:2px solid #3a3434;border-radius:2px 2px 5px 5px'></div><div class='abs' style='left:142px;top:50px;width:24px;height:12px;background:rgba(180,150,130,0.5);border:2px solid #3a3434;border-radius:2px 2px 5px 5px'></div></div></div><div class='abs' style='left:1626px;top:240.5px;width:159px;height:29px;border-radius:5px;background:rgba(40,20,20,0.55)'></div><svg class='abs' style='left:1616px;top:114px' width='300' height='166'><text x='17.7' y='147.3' font-family='Liberation Sans, sans-serif' font-size='15' fill='#fff' textLength='111.6' lengthAdjust='spacingAndGlyphs'>Gregory B Upton</text><rect x='144' y='136' width='15' height='12' rx='1.5' fill='none' stroke='#fff' stroke-width='1.3'/><circle cx='149' cy='140' r='2' fill='#fff'/><path d='M145 147.5 C145.5 144 152.5 144 153 147.5' fill='#fff'/><circle cx='157.5' cy='146.5' r='4.3' fill='#5a2a2a' stroke='#fff' stroke-width='1.2'/><path d='M157.5 143.8 L158.3 145.8 L160.3 146 L158.8 147.3 L159.2 149.2 L157.5 148.2 L155.8 149.2 L156.2 147.3 L154.7 146 L156.7 145.8 Z' fill='#fff'/></svg><div class='abs' style='left:1616px;top:780px;width:296px;height:163.5px;border-radius:7px;overflow:hidden'><div class='abs' style='left:0;top:0;width:297px;height:164px;filter:blur(1px)'><div class='abs' style='left:0px;top:0px;width:297px;height:164px;background:linear-gradient(90deg,#efe8c8 0%,#f6f2d0 35%,#fbfaec 55%,#fdfdf2 75%,#f8f4e0 100%);'></div><div class='abs' style='left:0px;top:0px;width:100px;height:164px;background:#3e2e30;'></div><div class='abs' style='left:22.4px;top:0px;width:50.6px;height:62.7px;background:#eeeaee;clip-path:polygon(0.0% 58.1%,20.9% 0.0%,52.0% 0.0%,100.0% 46.9%,96.8% 100.0%,62.5% 91.5%)'></div><div class='abs' style='left:71px;top:22px;width:29px;height:58px;background:#5a4a58;'></div><div class='abs' style='left:76px;top:29px;width:20px;height:18px;background:#e8e4f0;transform:skewY(25deg)'></div><div class='abs' style='left:0px;top:64px;width:52px;height:8px;background:#c8c8d6;'></div><div class='abs' style='left:0px;top:72px;width:52px;height:15px;background:#544a60;'></div><div class='abs' style='left:0px;top:87px;width:52px;height:63px;background:#3a2a30;'></div><div class='abs' style='left:0px;top:150px;width:58px;height:14px;background:#98a4ac;'></div><div class='abs' style='left:52px;top:64px;width:48px;height:55px;background:#3a2828;'></div><div class='abs' style='left:56px;top:85px;width:17px;height:13px;background:#8a6a50;border-radius:4px 4px 0 0'></div><div class='abs' style='left:49px;top:115px;width:30px;height:49px;background:#8a6252;'></div><div class='abs' style='left:57px;top:108px;width:30px;height:9px;background:#d8d8e0;'></div><div class='abs' style='left:4px;top:134px;width:10px;height:30px;background:#2a8a60;'></div><div class='abs' style='left:100px;top:0px;width:20px;height:164px;background:linear-gradient(90deg,#f0e8b8,#f6f2d0);'></div><div class='abs' style='left:245px;top:6px;width:52px;height:97px;background:#5a2c1c;'></div><div class='abs' style='left:254px;top:13px;width:43px;height:81px;background:#8c8c80;'></div><div class='abs' style='left:266px;top:21px;width:31px;height:65px;background:linear-gradient(180deg,#e8d8a8 0%,#c89858 45%,#806040 75%,#504438 100%);'></div><div class='abs' style='left:108px;top:6.7px;width:112.30000000000001px;height:157.3px;background:#1e1a1c;clip-path:polygon(48.5% 0.0%,79.7% 10.0%,95.3% 37.7%,100.0% 71.4%,87.3% 100.0%,0.0% 100.0%,6.2% 49.1%,9.5% 21.2%)'></div><div class='abs' style='left:148px;top:92px;width:32px;height:30px;background:#d6d0c4;border-radius:0 0 10px 10px'></div><div class='abs' style='left:131px;top:45px;width:60px;height:60px;background:#b68a60;border-radius:46% 46% 50% 50%'></div><div class='abs' style='left:48.7px;top:94px;width:103.3px;height:70px;background:#2a2e34;clip-path:polygon(0.0% 100.0%,20.3% 35.7%,43.9% 7.9%,64.2% 0.0%,84.5% 40.0%,100.0% 100.0%)'></div><div class='abs' style='left:141.5px;top:97.7px;width:141.8px;height:66.3px;background:#6e4a4a;clip-path:polygon(0.0% 100.0%,8.6% 47.2%,33.3% 15.5%,58.0% 0.0%,70.2% 10.6%,100.0% 100.0%)'></div><div class='abs' style='left:178px;top:110px;width:102px;height:54px;background:#bfa280;clip-path:polygon(54.9% 0.0%,100.0% 48.1%,79.4% 100.0%,0.0% 100.0%)'></div></div></div><svg class='abs' style='left:1626px;top:904px' width='35' height='30'><rect x='0' y='0' width='35' height='29.6' rx='5' fill='rgba(0,0,0,0.55)'/><g transform='translate(17.5,15) scale(1.0)'><rect x='-2.6' y='-8' width='5.2' height='9.5' rx='2.6' fill='#fff'/><path d='M-5 -1.5 V-0.8 A5 5 0 0 0 5 -0.8 V-1.5 M0 4.3 V7' stroke='#fff' stroke-width='1.1' fill='none' stroke-linecap='round'/><path d='M-6.2 -8.2 L6.4 6.4' stroke='#444' stroke-width='2.6'/><path d='M-6.2 -8.2 L6.4 6.4' stroke='#fff' stroke-width='1.1' stroke-linecap='round'/></g></svg>
</body></html>
